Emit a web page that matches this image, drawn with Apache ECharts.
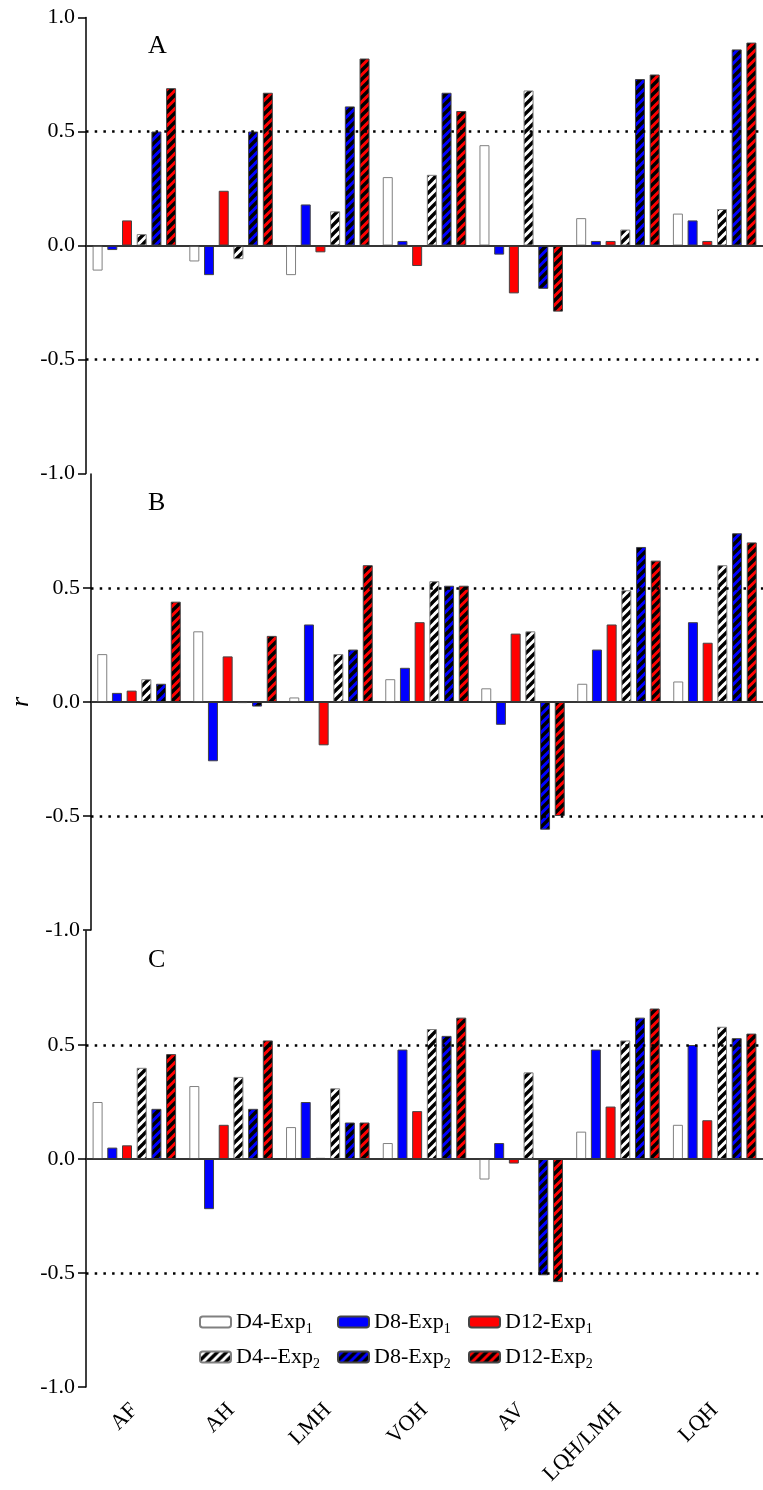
<!DOCTYPE html>
<html>
<head>
<meta charset="utf-8">
<script src="https://cdn.jsdelivr.net/npm/echarts@6/dist/echarts.min.js"></script>
<style>
html,body{margin:0;padding:0;background:#fff;}
#chart{width:763px;height:1490px;}
</style>
</head>
<body>
<div id="chart"></div>
<script>
// ---- data ----
const categories = ['AF', 'AH', 'LMH', 'VOH', 'AV', 'LQH/LMH', 'LQH'];
const seriesNames = ['D4-Exp1', 'D8-Exp1', 'D12-Exp1', 'D4--Exp2', 'D8-Exp2', 'D12-Exp2'];
const panelLabels = ['A', 'B', 'C'];
const yTicks = [-1, -0.5, 0, 0.5, 1];
const refLines = [0.5, -0.5];

// Panel A
const A_D4_Exp1  = [-0.11, -0.07, -0.13, 0.30, 0.44, 0.12, 0.14];
const A_D8_Exp1  = [-0.02, -0.13, 0.18, 0.02, -0.04, 0.02, 0.11];
const A_D12_Exp1 = [0.11, 0.24, -0.03, -0.09, -0.21, 0.02, 0.02];
const A_D4_Exp2  = [0.05, -0.06, 0.15, 0.31, 0.68, 0.07, 0.16];
const A_D8_Exp2  = [0.50, 0.50, 0.61, 0.67, -0.19, 0.73, 0.86];
const A_D12_Exp2 = [0.69, 0.67, 0.82, 0.59, -0.29, 0.75, 0.89];
// Panel B
const B_D4_Exp1  = [0.21, 0.31, 0.02, 0.10, 0.06, 0.08, 0.09];
const B_D8_Exp1  = [0.04, -0.26, 0.34, 0.15, -0.10, 0.23, 0.35];
const B_D12_Exp1 = [0.05, 0.20, -0.19, 0.35, 0.30, 0.34, 0.26];
const B_D4_Exp2  = [0.10, -0.005, 0.21, 0.53, 0.31, 0.49, 0.60];
const B_D8_Exp2  = [0.08, -0.02, 0.23, 0.51, -0.56, 0.68, 0.74];
const B_D12_Exp2 = [0.44, 0.29, 0.60, 0.51, -0.50, 0.62, 0.70];
// Panel C
const C_D4_Exp1  = [0.25, 0.32, 0.14, 0.07, -0.09, 0.12, 0.15];
const C_D8_Exp1  = [0.05, -0.22, 0.25, 0.48, 0.07, 0.48, 0.50];
const C_D12_Exp1 = [0.06, 0.15, 0.005, 0.21, -0.02, 0.23, 0.17];
const C_D4_Exp2  = [0.40, 0.36, 0.31, 0.57, 0.38, 0.52, 0.58];
const C_D8_Exp2  = [0.22, 0.22, 0.16, 0.54, -0.51, 0.62, 0.53];
const C_D12_Exp2 = [0.46, 0.52, 0.16, 0.62, -0.54, 0.66, 0.55];

const panels = [
  [A_D4_Exp1, A_D8_Exp1, A_D12_Exp1, A_D4_Exp2, A_D8_Exp2, A_D12_Exp2],
  [B_D4_Exp1, B_D8_Exp1, B_D12_Exp1, B_D4_Exp2, B_D8_Exp2, B_D12_Exp2],
  [C_D4_Exp1, C_D8_Exp1, C_D12_Exp1, C_D4_Exp2, C_D8_Exp2, C_D12_Exp2]
];

// ---- styling ----
const FONT = '"Liberation Serif", "DejaVu Serif", serif';
function hatch(bg) {
  const P = 9;
  const c = document.createElement('canvas');
  c.width = P; c.height = P;
  const g = c.getContext('2d');
  g.fillStyle = bg; g.fillRect(0, 0, P, P);
  g.strokeStyle = '#000'; g.lineWidth = 3.4;
  g.beginPath();
  for (let k = -1; k <= 1; k++) {
    g.moveTo(k * P - 1, P + 1);
    g.lineTo(k * P + P + 1, -1);
  }
  g.stroke();
  return { image: c, repeat: 'repeat' };
}
const styles = [
  { color: '#ffffff', borderColor: '#808080' },
  { color: '#0000ff', borderColor: '#444' },
  { color: '#ff0000', borderColor: '#444' },
  { color: hatch('#ffffff'), borderColor: '#808080' },
  { color: hatch('#0000ff'), borderColor: '#444' },
  { color: hatch('#ff0000'), borderColor: '#444' }
];

const gridTops = [17.5, 474, 931];
const grids = gridTops.map(t => ({ left: 86, top: t, width: 684, height: 456 }));

const xAxes = gridTops.map((t, i) => ({
  type: 'category', gridIndex: i, data: categories,
  boundaryGap: true,
  axisLine: { lineStyle: { color: '#000', width: 1.5 } },
  axisTick: { alignWithLabel: true, length: 8, lineStyle: { color: '#000', width: 1.5 } },
  axisLabel: i === 2 ? {
    show: true, interval: 0, rotate: 45, margin: 20,
    color: '#000', fontSize: 22, fontFamily: FONT
  } : { show: false }
}));

const yAxes = gridTops.map((t, i) => ({
  type: 'value', gridIndex: i, min: -1, max: 1, interval: 0.5,
  splitLine: { show: false },
  axisLine: { show: true, lineStyle: { color: '#000', width: 1.5 } },
  axisTick: { show: true, length: 8, lineStyle: { color: '#000', width: 1.5 } },
  axisLabel: {
    color: '#000', fontSize: 22, fontFamily: FONT, margin: 11,
    showMaxLabel: i === 0,
    formatter: v => (Math.round(v * 10) / 10).toFixed(1)
  },
  name: i === 1 ? 'r' : '',
  nameLocation: 'middle', nameGap: 57, nameRotate: 90,
  nameTextStyle: { fontStyle: 'italic', fontSize: 26, fontFamily: FONT, color: '#000' }
}));

const series = [];
panels.forEach((arrs, p) => {
  series.push({
    type: 'line', name: 'ref' + p, xAxisIndex: p, yAxisIndex: p, data: [],
    silent: true, z: 1,
    markLine: {
      silent: true, symbol: 'none', label: { show: false }, animation: false,
      data: [
        ...refLines.map(v => ({ yAxis: v, lineStyle: { type: [2.5, 6.2], width: 2.5, color: '#000' } })),
        { yAxis: 0, lineStyle: { type: 'solid', width: 1.5, color: '#333' } }
      ]
    }
  });
  arrs.forEach((arr, s) => {
    series.push({
      type: 'bar', name: seriesNames[s], xAxisIndex: p, yAxisIndex: p,
      data: arr, barWidth: 10, barGap: '47%', z: 3,
      itemStyle: { color: styles[s].color, borderColor: styles[s].borderColor, borderWidth: 1 }
    });
  });
});

const richText = {
  a: { fontSize: 22, fontFamily: FONT, color: '#000', lineHeight: 24 },
  s: { fontSize: 14, fontFamily: FONT, color: '#000', lineHeight: 14, padding: [14, 0, 0, 0] }
};
function legendFmt(name) {
  const m = name.match(/^(.*Exp)(\d)$/);
  return m ? '{a|' + m[1] + '}{s|' + m[2] + '}' : name;
}
const legendCols = [
  { left: 199, data: ['D4-Exp1', 'D4--Exp2'] },
  { left: 337, data: ['D8-Exp1', 'D8-Exp2'] },
  { left: 468, data: ['D12-Exp1', 'D12-Exp2'] }
];
const legends = legendCols.map(c => ({
  orient: 'vertical', left: c.left, top: 1308, data: c.data,
  itemWidth: 31, itemHeight: 11, itemGap: 7, itemTextGap: 13,
  selectedMode: false, padding: 0,
  formatter: legendFmt,
  textStyle: { rich: richText, fontFamily: FONT, fontSize: 22, color: '#000' }
}));

const titles = panelLabels.map((l, i) => ({
  text: l, left: 143, top: gridTops[i] + 11,
  textStyle: { fontSize: 26, fontWeight: 'normal', fontFamily: FONT, color: '#000' }
}));

const chart = echarts.init(document.getElementById('chart'), null, { renderer: 'canvas' });
chart.setOption({
  animation: false,
  backgroundColor: '#fff',
  title: titles,
  legend: legends,
  grid: grids,
  xAxis: xAxes,
  yAxis: yAxes,
  series: series
});
</script>
</body>
</html>
